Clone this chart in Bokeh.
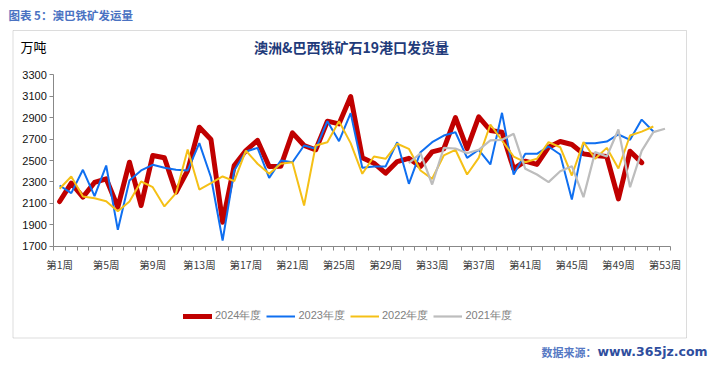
from bokeh.plotting import figure
from bokeh.models import Range1d, FixedTicker, Label, Legend, LegendItem, BoxAnnotation
from bokeh.embed import file_html
from bokeh.resources import INLINE

# ---------------- data ----------------
weeks = list(range(1, 54))
tick_weeks = list(range(1, 54, 4))
tick_labels = ["第%d周" % w for w in tick_weeks]
y_ticks = list(range(1700, 3301, 200))

s2024 = [2117, 2288, 2158, 2295, 2329, 2064, 2484, 2080, 2547, 2525,
         2204, 2407, 2811, 2696, 1924, 2453, 2593, 2687, 2444, 2447,
         2758, 2640, 2600, 2867, 2842, 3097, 2525, 2475, 2382, 2490,
         2520, 2444, 2580, 2609, 2900, 2610, 2908, 2780, 2764, 2422,
         2494, 2463, 2624, 2677, 2649, 2562, 2547, 2537, 2142, 2587,
         2480]
s2023 = [2267, 2195, 2413, 2167, 2453, 1853, 2313, 2407, 2460, 2432,
         2413, 2407, 2662, 2344, 1753, 2407, 2584, 2618, 2338, 2500,
         2484, 2640, 2609, 2867, 2680, 2942, 2432, 2444, 2444, 2671,
         2282, 2578, 2671, 2733, 2764, 2525, 2600, 2463, 2945, 2369,
         2562, 2562, 2631, 2556, 2136, 2662, 2662, 2677, 2743, 2693,
         2882, 2771]
s2022 = [2236, 2351, 2164, 2148, 2120, 2027, 2117, 2304, 2251, 2071,
         2195, 2603, 2229, 2288, 2351, 2307, 2593, 2470, 2376, 2469,
         2484, 2080, 2640, 2671, 2867, 2662, 2376, 2537, 2516, 2656,
         2609, 2407, 2329, 2547, 2600, 2369, 2525, 2836, 2687, 2537,
         2484, 2516, 2671, 2624, 2360, 2671, 2516, 2618, 2425, 2733,
         2770, 2817]
weeks2021 = list(range(31, 54))
s2021 = [2475, 2568, 2276, 2618, 2612, 2568, 2600, 2687, 2693, 2749,
         2422, 2369, 2298, 2400, 2447, 2158, 2578, 2537, 2789, 2251,
         2590, 2765, 2796]

series_names = ["2024年度", "2023年度", "2022年度", "2021年度"]

# ---------------- layout ----------------
W, H = 716, 362
# pixel positions of the plotting area (left/right/bottom/top)
PX_L, PX_R, PX_B, PX_T = 53.3, 670.3, 245.7, 74.3
X_LO, X_HI = 0.5, 53.5
Y_LO, Y_HI = 1700, 3300

kx = (X_HI - X_LO) / (PX_R - PX_L)
ky = (Y_HI - Y_LO) / (PX_B - PX_T)
x_range = Range1d(X_LO - PX_L * kx, X_LO + (W - PX_L) * kx)
y_range = Range1d(Y_LO - (H - PX_B) * ky, Y_HI + PX_T * ky)


def sx(px):
    return px


def sy(py):
    return H - py


p = figure(width=W, height=H, output_backend="svg", toolbar_location=None,
           x_range=x_range, y_range=y_range, min_border=0)
p.min_border_left = p.min_border_right = p.min_border_top = p.min_border_bottom = 0
p.outline_line_color = None
p.grid.visible = False
p.background_fill_color = "white"
p.border_fill_color = "white"

axis_col = "#888888"

yax = p.yaxis[0]
yax.fixed_location = X_LO
yax.bounds = (Y_LO, Y_HI)
yax.ticker = FixedTicker(ticks=y_ticks)
yax.axis_line_color = axis_col
yax.major_tick_line_color = axis_col
yax.major_tick_out = 4
yax.major_tick_in = 0
yax.minor_tick_line_color = None
yax.major_label_standoff = 3
yax.major_label_text_font = "Liberation Sans"
yax.major_label_text_font_size = "11px"
yax.major_label_text_color = "#111111"

xax = p.xaxis[0]
xax.fixed_location = Y_LO
xax.bounds = (X_LO, X_HI)
xax.ticker = FixedTicker(ticks=tick_weeks,
                         minor_ticks=[w - 0.5 for w in weeks] + [X_HI])
xax.major_label_overrides = {w: lab for w, lab in zip(tick_weeks, tick_labels)}
xax.axis_line_color = axis_col
xax.major_tick_line_color = None
xax.major_tick_out = 0
xax.major_tick_in = 0
xax.minor_tick_line_color = axis_col
xax.minor_tick_out = 4
xax.minor_tick_in = 0
xax.major_label_standoff = 7
xax.major_label_text_font = "Noto Sans CJK SC"
xax.major_label_text_font_size = "10.5px"
xax.major_label_text_color = "#404040"

r24 = p.line(weeks[:len(s2024)], s2024, line_color="#C00000", line_width=5,
             line_cap="round", line_join="round")
r23 = p.line(weeks[:len(s2023)], s2023, line_color="#0F6FF0", line_width=2)
r22 = p.line(weeks[:len(s2022)], s2022, line_color="#F5C016", line_width=2)
r21 = p.line(weeks2021, s2021, line_color="#BDBDBD", line_width=2.2)

legend = Legend(items=[LegendItem(label=n, renderers=[r])
                       for n, r in zip(series_names, [r24, r23, r22, r21])],
                orientation="horizontal", location=(sx(183), sy(323)),
                glyph_width=29, glyph_height=14, label_height=14,
                label_standoff=3, spacing=5, padding=0, margin=0,
                border_line_color=None, background_fill_alpha=0,
                label_text_font="Liberation Sans", label_text_font_size="11px",
                label_text_color="#808080")
p.add_layout(legend)

box = BoxAnnotation(left=sx(12.5), right=sx(686), top=sy(30), bottom=sy(337.5),
                    left_units="screen", right_units="screen",
                    top_units="screen", bottom_units="screen",
                    fill_alpha=0, line_color="#8C8C8C", line_width=1)
p.add_layout(box)

labels = [
    Label(x=sx(8), y=sy(14), text="图表 5：澳巴铁矿发运量",
          text_font="Noto Sans CJK SC", text_font_size="11.5px", text_font_style="bold",
          text_color="#4A72C2"),
    Label(x=sx(20), y=sy(46), text="万吨",
          text_font="Noto Sans CJK SC", text_font_size="13px", text_color="#000000"),
    Label(x=sx(351), y=sy(46), text="澳洲&巴西铁矿石19港口发货量", text_align="center",
          text_font="Noto Sans CJK SC", text_font_size="14px", text_font_style="bold",
          text_color="#1F3B7A"),
    Label(x=sx(541), y=sy(351), text="数据来源：",
          text_font="Noto Sans CJK SC", text_font_size="11px", text_font_style="bold",
          text_color="#5679C4"),
    Label(x=sx(597), y=sy(351), text="www.365jz.com",
          text_font="DejaVu Sans", text_font_size="12.5px", text_font_style="bold",
          text_color="#2F4E9E"),
]
for lb in labels:
    lb.x_units = "screen"
    lb.y_units = "screen"
    lb.text_baseline = "middle"
    p.add_layout(lb)

open("out.html", "w").write(file_html(p, INLINE))
